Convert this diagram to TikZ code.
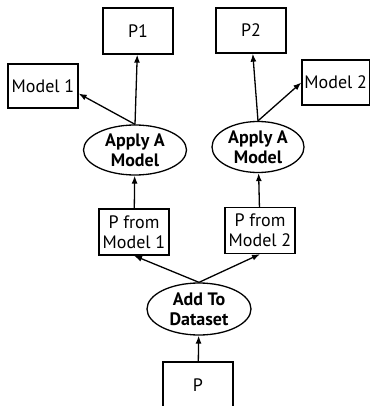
\documentclass[tikz,border=0pt]{standalone}
\usepackage{fontspec}
\setmainfont{PT Sans}
\usetikzlibrary{shapes.geometric, arrows.meta}

\tikzset{
  databox/.style={draw, line width=1.3pt, minimum width=70pt, minimum height=46pt,
                  inner sep=1pt, align=center, font=\fontsize{18}{20}\selectfont},
  process/.style={draw, ellipse, line width=1.3pt, inner sep=-2pt, align=center,
                  font=\bfseries\fontsize{18}{20}\selectfont},
  flow/.style={line width=1.3pt, -{Latex[length=8pt, width=6pt]}}
}

\begin{document}
\begin{tikzpicture}[x=1pt, y=-1pt]
  \useasboundingbox (0, 0) rectangle (370, 406);
  \clip (0, 0) rectangle (370, 406);

  % results
  \node[databox] (p1) at (138, 31) {P1};
  \node[databox, minimum height=45pt] (p2) at (251, 30.5) {P2};
  \node[databox, minimum height=44pt] (m1) at (43, 86) {Model 1};
  \node[databox, minimum width=67.5pt, minimum height=45pt] (m2) at (335.75, 82.5) {Model 2};

  % models
  \node[process, minimum width=103pt, minimum height=50pt] (am1) at (135, 150) {Apply A\\Model};
  \node[process, minimum width=92pt, minimum height=51pt] (am2) at (258, 147) {Apply A\\Model};

  \node[databox] (pm1) at (134, 232) {P from\\Model 1};
  \node[databox] (pm2) at (260, 230.5) {P from\\Model 2};

  % input
  \node[process, minimum width=104pt, minimum height=52pt] (ads) at (199, 309) {Add To\\Dataset};
  \node[databox] (p) at (198, 385) {P};

  \draw[flow] (am1.north) -- (p1);
  \draw[flow] (am1.north) -- (m1.-12);
  \draw[flow] (am2.north) -- (p2);
  \draw[flow] (am2.north) -- (m2.west);

  \draw[flow] (pm1) -- (am1);
  \draw[flow] (pm2) -- (am2);

  \draw[flow] (ads.north) -- (pm1.south);
  \draw[flow] (ads.north) -- (pm2.south);
  \draw[flow] (p) -- (ads);
\end{tikzpicture}
\end{document}
